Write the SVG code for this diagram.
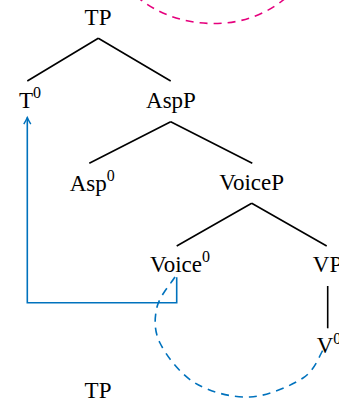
<svg xmlns="http://www.w3.org/2000/svg" width="339" height="404" viewBox="0 0 339 404">
<defs>
<style>
.lbl{font-family:'Liberation Serif','DejaVu Serif',serif;font-size:23px;fill:#000;text-anchor:middle}
.sup{font-size:16px}
.edge{stroke:#000;stroke-width:1.6;fill:none;stroke-linecap:butt}
.move{stroke:#0072BD;stroke-width:1.6;fill:none}
.dashb{stroke:#0072BD;stroke-width:1.6;fill:none;stroke-dasharray:8 6}
.dashm{stroke:#E5007D;stroke-width:1.6;fill:none;stroke-dasharray:8 6}
</style>
<marker id="arr" markerUnits="userSpaceOnUse" markerWidth="12" markerHeight="12" viewBox="-8 -6 10 12" refX="0" refY="0" orient="auto">
<path d="M-6.5,-3.5 Q-2.5,-1 0,0 Q-2.5,1 -6.5,3.5" stroke="#0072BD" stroke-width="1.4" fill="none"/>
</marker>
</defs>
<g id="connectors">
<path class="edge" d="M98.3,38.3 L27.3,81 M98.3,38.3 L170.7,81"/>
<path class="edge" d="M170.7,121.7 L89.3,163.3 M170.7,121.7 L252.3,163.3"/>
<path class="edge" d="M251.7,203.3 L176.7,246 M251.7,203.3 L326.7,246"/>
<path class="edge" d="M327.7,286 L327.7,328.3"/>
<path class="move" d="M176.7,277.3 V302.7 H27.3 V117.6" marker-end="url(#arr)"/>
<path class="dashb" d="M175,277 C172,282 159.5,296 157,307 C154.5,318 153.7,330.3 160,343 C166.3,355.7 180,374 195,383 C210,392 232,397.8 250,397 C268,396.2 290.8,385.8 303,378 C315.2,370.2 319.7,354.7 323,350"/>
<path class="dashm" d="M136,-4 C155,12 180,23 212,23.5 C245,24 270,12 288,-4"/>
</g>
<g id="node-TP"><text class="lbl" x="98" y="25" font-family="Liberation Serif, serif">TP</text></g>
<g id="node-T0"><text class="lbl" x="30" y="107.7">T<tspan class="sup" dy="-9.5">0</tspan></text></g>
<g id="node-AspP"><text class="lbl" x="171" y="107.7">AspP</text></g>
<g id="node-Asp0"><text class="lbl" x="92.2" y="190.5">Asp<tspan class="sup" dy="-9.5">0</tspan></text></g>
<g id="node-VoiceP"><text class="lbl" x="251.7" y="190">VoiceP</text></g>
<g id="node-Voice0"><text class="lbl" x="180" y="271.7">Voice<tspan class="sup" dy="-9.5">0</tspan></text></g>
<g id="node-VP"><text class="lbl" x="327.5" y="272">VP</text></g>
<g id="node-V0"><text class="lbl" x="329" y="353.3">V<tspan class="sup" dy="-9.5">0</tspan></text></g>
<g id="node-TP2"><text class="lbl" x="98" y="398">TP</text></g>
</svg>
